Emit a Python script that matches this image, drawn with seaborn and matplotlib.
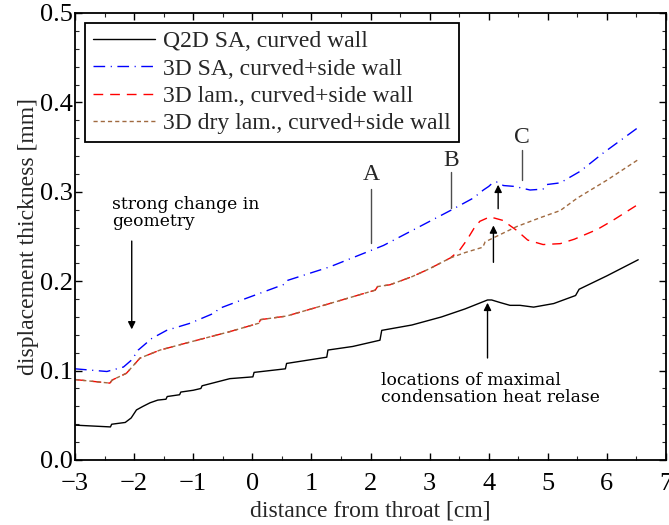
import matplotlib
matplotlib.use("Agg")
import matplotlib.pyplot as plt
import seaborn as sns
from matplotlib.ticker import MultipleLocator

# ---------------- data ----------------
x_q2d = [-3.0, -2.4, -2.38, -2.15, -2.05, -1.96, -1.85, -1.73, -1.6, -1.46, -1.44, -1.23, -1.21,
         -1.0, -0.87, -0.85, -0.38, 0.01, 0.03, 0.56, 0.58, 1.26, 1.28, 1.7, 2.16, 2.19, 2.7,
         3.2, 3.6, 3.98, 4.05, 4.2, 4.36, 4.53, 4.76, 5.1, 5.47, 5.53, 6.0, 6.53]
y_q2d = [0.039, 0.037, 0.040, 0.042, 0.047, 0.056, 0.060, 0.064, 0.067, 0.068, 0.071, 0.073, 0.076,
         0.078, 0.080, 0.083, 0.091, 0.093, 0.098, 0.102, 0.108, 0.115, 0.123, 0.127, 0.134, 0.145, 0.151,
         0.160, 0.169, 0.179, 0.179, 0.176, 0.173, 0.173, 0.171, 0.175, 0.184, 0.191, 0.206, 0.224]

x_sa3d = [-3.0, -2.46, -2.18, -2.04, -1.93, -1.7, -1.45, -1.05, -0.62, -0.58, -0.26, 0.56, 0.60,
          1.31, 2.22, 2.8, 3.35, 3.74, 3.91, 4.0, 4.05, 4.13, 4.25, 4.44, 4.7, 4.92, 4.97,
          5.21, 5.55, 5.93, 6.53]
y_sa3d = [0.102, 0.099, 0.104, 0.112, 0.123, 0.136, 0.145, 0.153, 0.165, 0.169, 0.177, 0.197, 0.201,
          0.216, 0.240, 0.260, 0.279, 0.293, 0.302, 0.306, 0.309, 0.311, 0.307, 0.306, 0.302, 0.303, 0.308,
          0.310, 0.323, 0.343, 0.372]

x_lam = [-3.0, -2.41, -2.37, -2.13, -1.9, -1.56, -1.05, -0.38, 0.11, 0.14, 0.58, 1.31, 2.08, 2.12,
         2.33, 2.7, 3.0, 3.35, 3.5, 3.63, 3.75, 3.85, 4.02, 4.24, 4.47, 4.66, 4.92, 5.21, 5.45,
         5.84, 6.1, 6.53]
y_lam = [0.090, 0.086, 0.0895, 0.097, 0.114, 0.123, 0.132, 0.1436, 0.153, 0.157, 0.161, 0.175, 0.190, 0.194,
         0.196, 0.205, 0.214, 0.226, 0.234, 0.246, 0.259, 0.267, 0.272, 0.268, 0.257, 0.246, 0.241, 0.242, 0.247,
         0.258, 0.268, 0.286]

x_dry = [-3.0, -2.41, -2.37, -2.13, -1.9, -1.56, -1.05, -0.38, 0.11, 0.14, 0.58, 1.31, 2.08, 2.12,
         2.33, 2.7, 3.0, 3.35, 3.6, 3.9, 3.94, 4.47, 4.87, 5.21, 5.5, 6.0, 6.53]
y_dry = [0.090, 0.086, 0.0895, 0.097, 0.114, 0.123, 0.132, 0.1436, 0.153, 0.157, 0.161, 0.175, 0.190, 0.194,
         0.196, 0.205, 0.214, 0.226, 0.232, 0.238, 0.244, 0.261, 0.271, 0.279, 0.293, 0.313, 0.336]

labels = ["Q2D SA, curved wall", "3D SA, curved+side wall",
          "3D lam., curved+side wall", "3D dry lam., curved+side wall"]

# ---------------- style ----------------
sns.set_style("ticks")
plt.rcParams["font.family"] = ["Liberation Serif", "DejaVu Serif"]
plt.rcParams["xtick.direction"] = "in"
plt.rcParams["ytick.direction"] = "in"
plt.rcParams["xtick.top"] = True
plt.rcParams["ytick.right"] = True

fig = plt.figure(figsize=(6.69, 5.25), dpi=100)
ax = fig.add_axes([75 / 669, 65 / 525, 591 / 669, 447 / 525])

series = [
    (x_q2d, y_q2d, "black", None),
    (x_sa3d, y_sa3d, "#0000ff", (8.4, 4.0, 0.8, 4.0)),
    (x_lam, y_lam, "#ff0000", (7.0, 5.0)),
    (x_dry, y_dry, "#a06a40", (3.0, 2.2)),
]
for (xs, ys, col, dash), lab in zip(series, labels):
    sns.lineplot(x=xs, y=ys, ax=ax, color=col, lw=1.0, label=lab,
                 sort=False, estimator=None)
    if dash is not None:
        ax.lines[-1].set_dashes(dash)

ax.set_xlim(-3, 7)
ax.set_ylim(0, 0.5)
ax.xaxis.set_major_locator(MultipleLocator(1))
ax.xaxis.set_minor_locator(MultipleLocator(0.5))
ax.yaxis.set_major_locator(MultipleLocator(0.1))
ax.yaxis.set_minor_locator(MultipleLocator(0.02))
ax.tick_params(which="major", length=5, width=1, labelsize=19, colors="black")
ax.tick_params(axis="x", which="major", pad=9)
ax.tick_params(axis="y", which="major", pad=1.5)
ax.tick_params(which="minor", length=3, width=0.8)
for s in ax.spines.values():
    s.set_linewidth(1.3)
    s.set_color("black")

ax.set_xlabel("distance from throat [cm]", fontsize=17, labelpad=4)
ax.set_ylabel("displacement thickness [mm]", fontsize=17, labelpad=1)

leg = ax.legend(loc="upper left", bbox_to_anchor=(0.017, 0.978), borderaxespad=0,
                fontsize=17, frameon=True, fancybox=False, edgecolor="black",
                framealpha=1, handlelength=2.65, labelspacing=0.25, handletextpad=0.34,
                borderpad=0.33)
leg.get_frame().set_linewidth(1.3)

# ---------------- annotations ----------------
ann_font = dict(family="DejaVu Serif", fontsize=12.3, color="black")
ax.text(-2.37, 0.2765, "strong change in\ngeometry", ha="left", va="center",
        linespacing=1.0, **ann_font)
ax.annotate("", xy=(-2.04, 0.143), xytext=(-2.04, 0.248),
            arrowprops=dict(arrowstyle="-|>", color="black", lw=1, mutation_scale=11))

ax.text(2.18, 0.0795, "locations of maximal\ncondensation heat relase", ha="left", va="center",
        linespacing=1.0, **ann_font)
ax.annotate("", xy=(3.98, 0.179), xytext=(3.98, 0.111),
            arrowprops=dict(arrowstyle="-|>", color="black", lw=1, mutation_scale=11))
ax.annotate("", xy=(4.08, 0.2655), xytext=(4.08, 0.218),
            arrowprops=dict(arrowstyle="-|>", color="black", lw=1, mutation_scale=11))
ax.annotate("", xy=(4.16, 0.311), xytext=(4.16, 0.278),
            arrowprops=dict(arrowstyle="-|>", color="black", lw=1, mutation_scale=11))

ax.plot([2.01, 2.01], [0.243, 0.303], color="0.3", lw=1)
ax.text(2.01, 0.319, "A", ha="center", va="center", fontsize=17)
ax.plot([3.36, 3.36], [0.2815, 0.3225], color="0.3", lw=1)
ax.text(3.37, 0.335, "B", ha="center", va="center", fontsize=17)
ax.plot([4.57, 4.57], [0.313, 0.347], color="0.3", lw=1)
ax.text(4.56, 0.361, "C", ha="center", va="center", fontsize=17)

fig.savefig("out.png", dpi=100)
